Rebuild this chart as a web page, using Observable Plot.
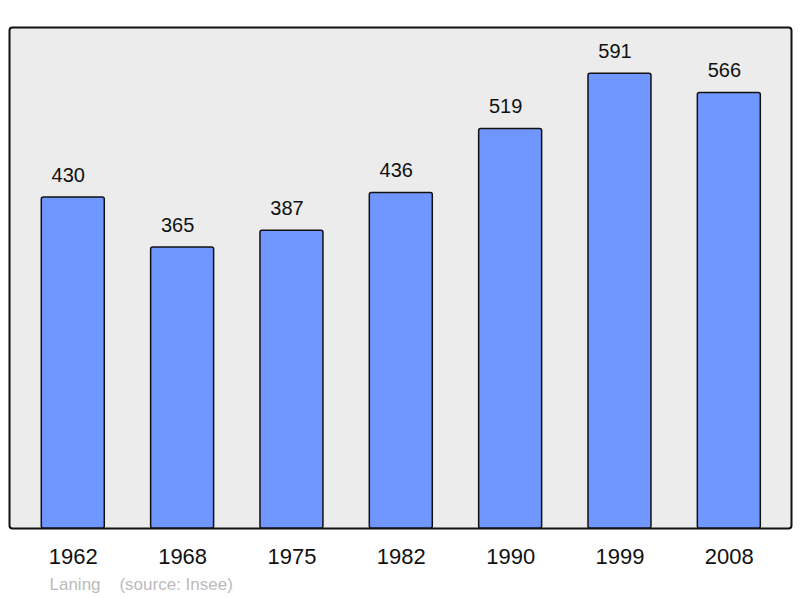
<!DOCTYPE html>
<html>
<head>
<meta charset="utf-8">
<script src="https://cdn.jsdelivr.net/npm/d3@7"></script>
<script src="https://cdn.jsdelivr.net/npm/@observablehq/plot@0.6"></script>
<style>
  html, body { margin: 0; padding: 0; background: #fff; }
  svg { display: block; }
</style>
</head>
<body>
<div id="chart"></div>
<script>
const years = ["1962", "1968", "1975", "1982", "1990", "1999", "2008"];
const population = [430, 365, 387, 436, 519, 591, 566];
const placeName = "Laning";
const sourceText = "(source: Insee)";

const data = years.map((y, i) => ({year: y, pop: population[i]}));

const chart = Plot.plot({
  width: 800,
  height: 598,
  marginLeft: 9,
  marginRight: 9,
  marginTop: 27,
  marginBottom: 70,
  style: {fontFamily: "'Liberation Sans', Arial, sans-serif", background: "#fff"},
  x: {domain: years, range: [9.8, 791.8], round: false, paddingInner: 0.424, paddingOuter: 0.288, axis: null},
  y: {domain: [0, 651], axis: null},
  marks: [
    Plot.frame({fill: "#ececec", stroke: "#111", strokeWidth: 2, rx: 3}),
    Plot.barY(data, {x: "year", y: "pop", fill: "#7096ff", stroke: "#111", strokeWidth: 1.5, rx: 2}),
    Plot.text(data, {x: "year", y: "pop", text: d => String(d.pop), dx: -5, dy: -22, fontSize: 20, fill: "#111", lineAnchor: "middle"}),
    Plot.text(data, {x: "year", y: () => 0, text: "year", dy: 28, fontSize: 22, fill: "#111", lineAnchor: "middle"}),
    Plot.text([placeName + "\u00a0\u00a0\u00a0\u00a0" + sourceText], {frameAnchor: "bottom-left", text: d => d, dx: 40, dy: 56, fontSize: 17, fill: "#bbbbbb", textAnchor: "start", lineAnchor: "middle"})
  ]
});
document.getElementById("chart").appendChild(chart);
</script>
</body>
</html>
